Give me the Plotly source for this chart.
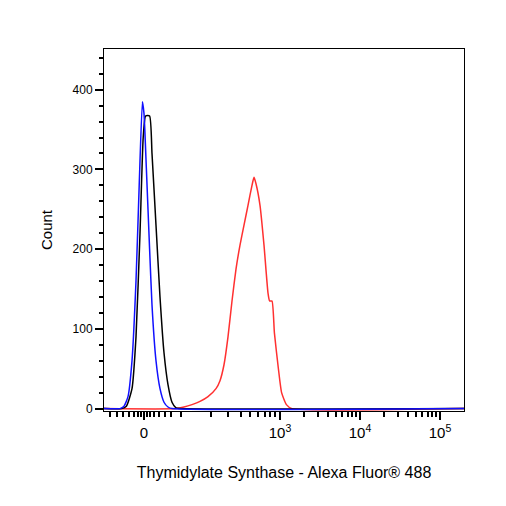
import numpy as np
import plotly.graph_objects as go

# x in display units of the biexponential axis (0 -> "0", 1.7 -> 10^3, each decade 1.0)
blue_x = [-0.5, -0.3, -0.25, -0.2, -0.15, -0.1, -0.06, -0.02, 0.0, 0.03, 0.07, 0.1, 0.15, 0.2, 0.25, 0.3, 0.35, 4.0]
blue_y = [0, 0, 3, 15, 60, 160, 280, 385, 370, 300, 200, 130, 60, 25, 8, 2, 0, 0]

black_x = [-0.5, -0.28, -0.22, -0.15, -0.1, -0.05, -0.01, 0.02, 0.07, 0.1, 0.15, 0.2, 0.25, 0.3, 0.35, 0.4, 0.45, 4.0]
black_y = [0, 0, 3, 25, 90, 220, 340, 367, 367, 320, 230, 140, 70, 30, 8, 1, 0, 0]

red_x = [-0.5, 0.4, 0.5, 0.6, 0.7, 0.8, 0.9, 0.95, 1.0, 1.05, 1.1, 1.15, 1.2, 1.25, 1.3, 1.35, 1.375, 1.4, 1.45,
         1.5, 1.55, 1.57, 1.6, 1.63, 1.68, 1.72, 1.78, 1.85, 4.0]
red_y = [0, 0, 2, 5, 9, 15, 25, 35, 55, 90, 135, 175, 205, 230, 255, 280, 290, 282, 255,
         205, 145, 135, 135, 95, 50, 20, 5, 0, 0]

tick_vals = [0, 1.7, 2.7, 3.7]
tick_text = ["0", "10<sup>3</sup>", "10<sup>4</sup>", "10<sup>5</sup>"]

# minor tick positions
minor = [0.4625 + (np.log10(m * 100) - 2) * 1.2375 for m in range(1, 10)]
for d in (3, 4):
    minor += [1.7 + (d - 3) + np.log10(m) for m in range(1, 10)]
minor += [3.7 + np.log10(m) for m in range(1, 3)]
minor += [s * v for v in (0.04, 0.08, 0.13, 0.19, 0.26, 0.34) for s in (-1, 1)]
minor += [-0.43]

line_kw = dict(width=1.5, shape="spline", smoothing=0.5)
fig = go.Figure()
fig.add_trace(go.Scatter(x=red_x, y=red_y, mode="lines", line=dict(color="#ff3030", **line_kw)))
fig.add_trace(go.Scatter(x=black_x, y=black_y, mode="lines", line=dict(color="black", **line_kw)))
fig.add_trace(go.Scatter(x=blue_x, y=blue_y, mode="lines", line=dict(color="#1010ff", **line_kw)))

fig.update_layout(
    width=506, height=506,
    margin=dict(l=96, r=50, t=41, b=103),
    plot_bgcolor="white", paper_bgcolor="white",
    showlegend=False,
    font=dict(family="Liberation Sans, Arial", size=12, color="black"),
    xaxis=dict(
        range=[-0.5, 4.0], tickmode="array", tickvals=tick_vals, ticktext=tick_text,
        showgrid=False, zeroline=False, showline=True, linecolor="black", mirror=True,
        ticks="outside", ticklen=8, tickwidth=2, tickcolor="black",
        tickfont=dict(size=15),
        minor=dict(tickmode="array", tickvals=minor, ticks="outside", ticklen=5, tickcolor="black"),
        title=dict(text="Thymidylate Synthase - Alexa Fluor® 488", standoff=26, font=dict(size=16)),
    ),
    yaxis=dict(
        range=[-3, 451], tickvals=[0, 100, 200, 300, 400],
        showgrid=False, zeroline=False, showline=True, linecolor="black", mirror=True,
        ticks="outside", ticklen=8, tickwidth=2, tickcolor="black",
        minor=dict(dtick=20, ticks="outside", ticklen=4, tickcolor="black"),
        title=dict(text="Count", standoff=16, font=dict(size=15)),
    ),
)

fig.write_html("out.html")
